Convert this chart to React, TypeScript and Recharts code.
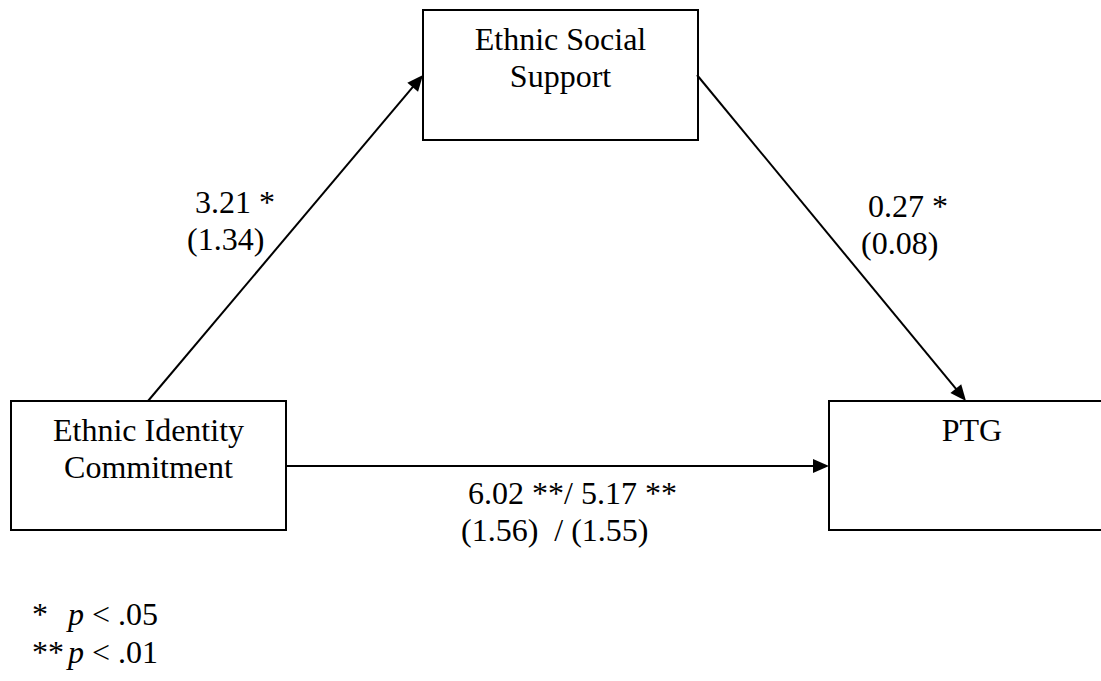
import {
  ComposedChart,
  XAxis,
  YAxis,
  Scatter,
  ReferenceArea,
  ReferenceLine,
  ReferenceDot,
} from "recharts";

// node names (one entry per line of the box label)
const nodeLabels = [
  ["Ethnic Identity", "Commitment"],
  ["Ethnic Social", "Support"],
  ["PTG"],
];

// path coefficients and standard errors: a path, b path, c / c' path
const coefficients = ["3.21 *", "0.27 *", "6.02 **/ 5.17 **"];
const standardErrors = ["(1.34)", "(0.08)", "(1.56)  / (1.55)"];

// significance footnote
const sigMarks = ["*", "**"];
const sigLevels = [".05", ".01"];

// layout in chart units (pixels of the 1101 x 681 canvas)
const boxLayout = [
  { x1: 11, x2: 286, y1: 401, y2: 530 },
  { x1: 423, x2: 698, y1: 10, y2: 140 },
  { x1: 829, x2: 1115, y1: 401, y2: 530 },
];
const arrowLayout = [
  { x1: 148, y1: 401, x2: 423, y2: 75 },
  { x1: 697, y1: 75, x2: 966, y2: 401 },
  { x1: 286, y1: 466, x2: 829, y2: 466 },
];
const labelLayout = [
  { x: 195, y: 213, seX: 187 },
  { x: 868, y: 217, seX: 861 },
  { x: 468, y: 504, seX: 461 },
];
const footLayout = [
  { x: 32, y: 625 },
  { x: 32, y: 663 },
];

const W = 1101;
const H = 681;
const FONT = '"Liberation Serif", "Times New Roman", serif';
const FS = 32;

const labelTable = coefficients.map((c, i) => ({
  x: labelLayout[i].x,
  y: labelLayout[i].y,
  seShift: labelLayout[i].seX - labelLayout[i].x,
  coef: c,
  se: standardErrors[i],
}));

function Arrow(props: any) {
  const { x1, y1, x2, y2 } = props;
  const ang = Math.atan2(y2 - y1, x2 - x1);
  const len = 16;
  const hw = 7;
  const bx = x2 - len * Math.cos(ang);
  const by = y2 - len * Math.sin(ang);
  const px = -Math.sin(ang) * hw;
  const py = Math.cos(ang) * hw;
  return (
    <g>
      <line x1={x1} y1={y1} x2={bx + Math.cos(ang)} y2={by + Math.sin(ang)} stroke="#000" strokeWidth={2} />
      <polygon
        points={`${x2},${y2} ${bx + px},${by + py} ${bx - px},${by - py}`}
        fill="#000"
      />
    </g>
  );
}

function makeBox(lines: string[]) {
  return (props: any) => {
    const { x, y, width, height } = props;
    return (
      <g>
        <rect x={x} y={y} width={width} height={height} fill="#fff" stroke="#000" strokeWidth={2} />
        <text
          x={x + width / 2}
          y={y + 40}
          textAnchor="middle"
          fontFamily={FONT}
          fontSize={FS}
          fill="#000"
        >
          {lines.map((l, i) => (
            <tspan key={i} x={x + width / 2} dy={i === 0 ? 0 : 36.5}>
              {l}
            </tspan>
          ))}
        </text>
      </g>
    );
  };
}

function PathLabel(props: any) {
  const { cx, cy, payload } = props;
  return (
    <text fontFamily={FONT} fontSize={FS} fill="#000" style={{ whiteSpace: "pre" }}>
      <tspan x={cx} y={cy}>
        {payload.coef}
      </tspan>
      <tspan x={cx + payload.seShift} y={cy + 37}>
        {payload.se}
      </tspan>
    </text>
  );
}

function makeFoot(i: number) {
  return (props: any) => {
    const { cx, cy } = props;
    return (
      <text fontFamily={FONT} fontSize={FS} fill="#000" style={{ whiteSpace: "pre" }}>
        <tspan x={cx} y={cy}>
          {sigMarks[i]}
        </tspan>
        <tspan x={cx + 36} y={cy} fontStyle="italic">
          p
        </tspan>
        <tspan>{" < " + sigLevels[i]}</tspan>
      </text>
    );
  };
}

export default function App() {
  return (
    <div style={{ position: "absolute", left: 0, top: 0, width: W, height: H, background: "#fff" }}>
      <ComposedChart width={W} height={H} margin={{ top: 0, right: 0, bottom: 0, left: 0 }}>
        <XAxis type="number" dataKey="x" domain={[0, W]} allowDataOverflow hide />
        <YAxis type="number" dataKey="y" domain={[0, H]} reversed allowDataOverflow hide />
        {boxLayout.map((b, i) => (
          <ReferenceArea
            key={`box-${i}`}
            x1={b.x1}
            x2={b.x2}
            y1={b.y1}
            y2={b.y2}
            ifOverflow="visible"
            shape={makeBox(nodeLabels[i])}
          />
        ))}
        {arrowLayout.map((a, i) => (
          <ReferenceLine
            key={`arrow-${i}`}
            segment={[
              { x: a.x1, y: a.y1 },
              { x: a.x2, y: a.y2 },
            ]}
            ifOverflow="visible"
            shape={Arrow}
          />
        ))}
        <Scatter data={labelTable} shape={PathLabel} isAnimationActive={false} />
        {footLayout.map((f, i) => (
          <ReferenceDot key={`foot-${i}`} x={f.x} y={f.y} ifOverflow="visible" shape={makeFoot(i)} />
        ))}
      </ComposedChart>
    </div>
  );
}
